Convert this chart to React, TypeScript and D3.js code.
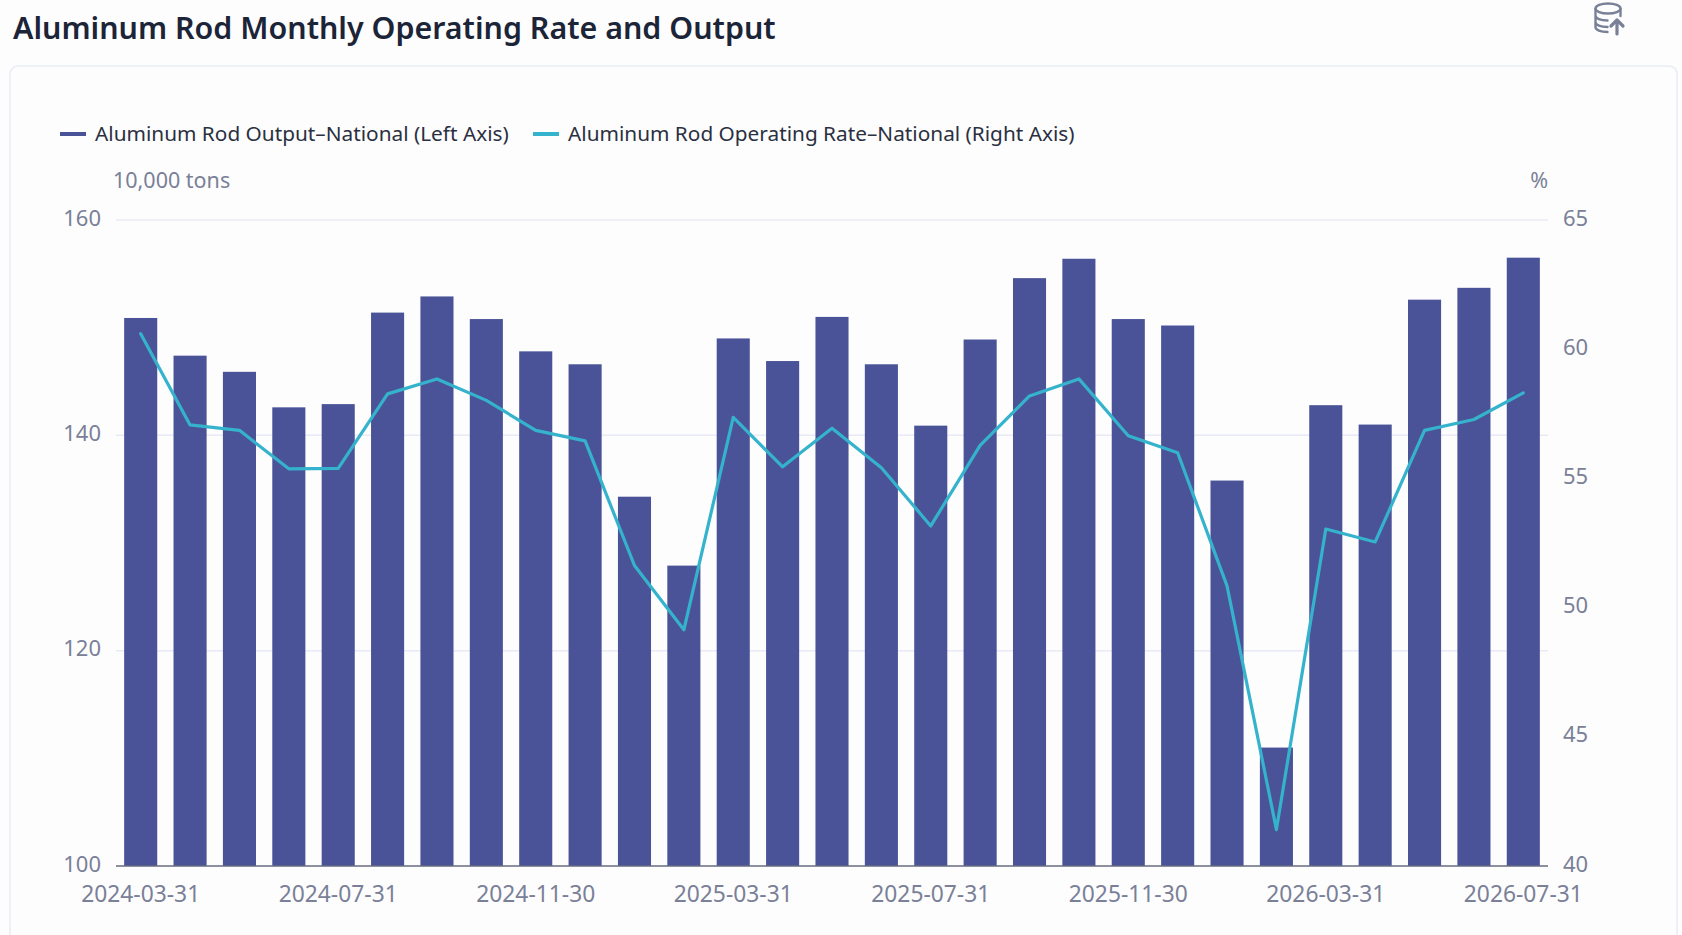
import React, { useEffect, useRef } from 'react';
import * as d3 from 'd3';

const title = 'Aluminum Rod Monthly Operating Rate and Output';
const outputName = 'Aluminum Rod Output–National (Left Axis)';
const rateName = 'Aluminum Rod Operating Rate–National (Right Axis)';

const months = [
  '2024-03-31', '2024-04-30', '2024-05-31', '2024-06-30', '2024-07-31', '2024-08-31',
  '2024-09-30', '2024-10-31', '2024-11-30', '2024-12-31', '2025-01-31', '2025-02-28',
  '2025-03-31', '2025-04-30', '2025-05-31', '2025-06-30', '2025-07-31', '2025-08-31',
  '2025-09-30', '2025-10-31', '2025-11-30', '2025-12-31', '2026-01-31', '2026-02-28',
  '2026-03-31', '2026-04-30', '2026-05-31', '2026-06-30', '2026-07-31',
];
const output = [
  150.9, 147.4, 145.9, 142.6, 142.9, 151.4, 152.9, 150.8, 147.8, 146.6,
  134.3, 127.9, 149.0, 146.9, 151.0, 146.6, 140.9, 148.9, 154.6, 156.4,
  150.8, 150.2, 135.8, 111.0, 142.8, 141.0, 152.6, 153.7, 156.5,
];
const rate = [
  60.6, 57.07, 56.86, 55.37, 55.39, 58.27, 58.85, 58.02, 56.86, 56.45,
  51.63, 49.14, 57.36, 55.45, 56.94, 55.41, 53.16, 56.28, 58.19, 58.85,
  56.65, 55.99, 50.84, 41.41, 53.04, 52.54, 56.86, 57.28, 58.31,
];
const leftTicks = [100, 120, 140, 160];
const rightTicks = [40, 45, 50, 55, 60, 65];

const width = 1682;
const height = 935;
const margin = { top: 220, right: 134, bottom: 69, left: 116 };
const font = '"Noto Sans", sans-serif';
const barColor = '#4a5397';
const lineColor = '#35b3cc';
const textColor = '#7a8097';

const App: React.FC = () => {
  const svgRef = useRef<SVGSVGElement>(null);

  useEffect(() => {
    if (!svgRef.current) return;
    const svg = d3.select(svgRef.current);
    svg.selectAll('*').remove();

    const x = d3.scaleBand()
      .domain(months)
      .range([margin.left, width - margin.right])
      .paddingInner(0.33)
      .paddingOuter(0.165);
    const yLeft = d3.scaleLinear().domain([100, 160]).range([height - margin.bottom, margin.top]);
    const yRight = d3.scaleLinear().domain([40, 65]).range([height - margin.bottom, margin.top]);

    svg.append('rect').attr('width', width).attr('height', height).attr('fill', '#fdfdfe');

    // Card
    svg.append('rect')
      .attr('x', 10).attr('y', 66).attr('width', 1667).attr('height', 880).attr('rx', 8)
      .attr('fill', '#fdfdfe').attr('stroke', '#e9ebf6').attr('stroke-width', 1.5);

    svg.append('text')
      .attr('x', 13).attr('y', 39)
      .style('font-family', font).style('font-size', '30.4px').style('font-weight', 600)
      .style('fill', '#1c2438')
      .text(title);

    // Export icon
    const icon = svg.append('g')
      .attr('transform', 'translate(1594,2)')
      .attr('fill', 'none').attr('stroke', '#7a8097').attr('stroke-width', 2.4)
      .attr('stroke-linecap', 'round').attr('stroke-linejoin', 'round');
    icon.append('ellipse').attr('cx', 14).attr('cy', 6.500).attr('rx', 12.5).attr('ry', 5);
    icon.append('path').attr('d', 'M1.5 7V25c0 3 5 5 12 5M26.5 7v7M1.5 13.5c0 3 5 5 12 5M1.5 20c0 3 5 5 12 5');
    icon.append('path').attr('d', 'M23 32V18M17 24L23 18l6 6').attr('stroke-width', 3.2);

    // Legend
    const legend = [
      { name: outputName, color: barColor, x: 60 },
      { name: rateName, color: lineColor, x: 533 },
    ];
    legend.forEach(l => {
      svg.append('rect')
        .attr('x', l.x).attr('y', 132).attr('width', 26).attr('height', 4)
        .attr('fill', l.color);
      svg.append('text')
        .attr('x', l.x + 35).attr('y', 140.5)
        .style('font-family', font).style('font-size', '20.8px').style('fill', '#2a3040')
        .text(l.name);
    });

    // Axis names
    svg.append('text')
      .attr('x', 113).attr('y', 188)
      .style('font-family', font).style('font-size', '21.5px').style('fill', textColor)
      .text('10,000 tons');
    svg.append('text')
      .attr('x', 1548).attr('y', 188).attr('text-anchor', 'end')
      .style('font-family', font).style('font-size', '21.5px').style('fill', textColor)
      .text('%');

    // Grid
    svg.append('g')
      .selectAll('line')
      .data(leftTicks.filter(t => t !== 100))
      .join('line')
      .attr('x1', margin.left).attr('x2', width - margin.right)
      .attr('y1', d => yLeft(d)).attr('y2', d => yLeft(d))
      .attr('stroke', '#e8eaf5').attr('stroke-width', 1.5);

    // Bars
    svg.append('g')
      .selectAll('rect')
      .data(output)
      .join('rect')
      .attr('x', (_, i) => x(months[i]) || 0)
      .attr('y', d => yLeft(d))
      .attr('width', x.bandwidth())
      .attr('height', d => yLeft(100) - yLeft(d))
      .attr('fill', barColor);

    // Axes
    const styleAxis = (size: string) => (g: any) => {
      g.select('.domain').remove();
      g.selectAll('line').remove();
      g.selectAll('text')
        .style('font-family', font).style('font-size', size).style('fill', textColor);
    };

    svg.append('g')
      .attr('transform', `translate(${margin.left},-2)`)
      .call(d3.axisLeft(yLeft).tickValues(leftTicks).tickSize(0).tickPadding(15))
      .call(styleAxis('22px'));

    svg.append('g')
      .attr('transform', `translate(${width - margin.right},-2)`)
      .call(d3.axisRight(yRight).tickValues(rightTicks).tickSize(0).tickPadding(15))
      .call(styleAxis('22px'));

    svg.append('g')
      .attr('transform', `translate(0,${height - margin.bottom})`)
      .call(d3.axisBottom(x).tickValues(months.filter((_, i) => i % 4 === 0)).tickSize(0).tickPadding(20))
      .call(styleAxis('22.8px'));

    svg.append('line')
      .attr('x1', margin.left).attr('x2', width - margin.right)
      .attr('y1', yLeft(100)).attr('y2', yLeft(100))
      .attr('stroke', '#666b80').attr('stroke-width', 1.5);

    // Operating rate line
    const line = d3.line<number>()
      .x((_, i) => (x(months[i]) || 0) + x.bandwidth() / 2)
      .y(d => yRight(d));
    svg.append('path')
      .datum(rate)
      .attr('d', line)
      .attr('fill', 'none')
      .attr('stroke', lineColor)
      .attr('stroke-width', 3.2)
      .attr('stroke-linejoin', 'round')
      .attr('stroke-linecap', 'round');
  }, []);

  return (
    <svg
      ref={svgRef}
      width={width}
      height={height}
      style={{ position: 'absolute', left: 0, top: 0, display: 'block' }}
    />
  );
};

export default App;
